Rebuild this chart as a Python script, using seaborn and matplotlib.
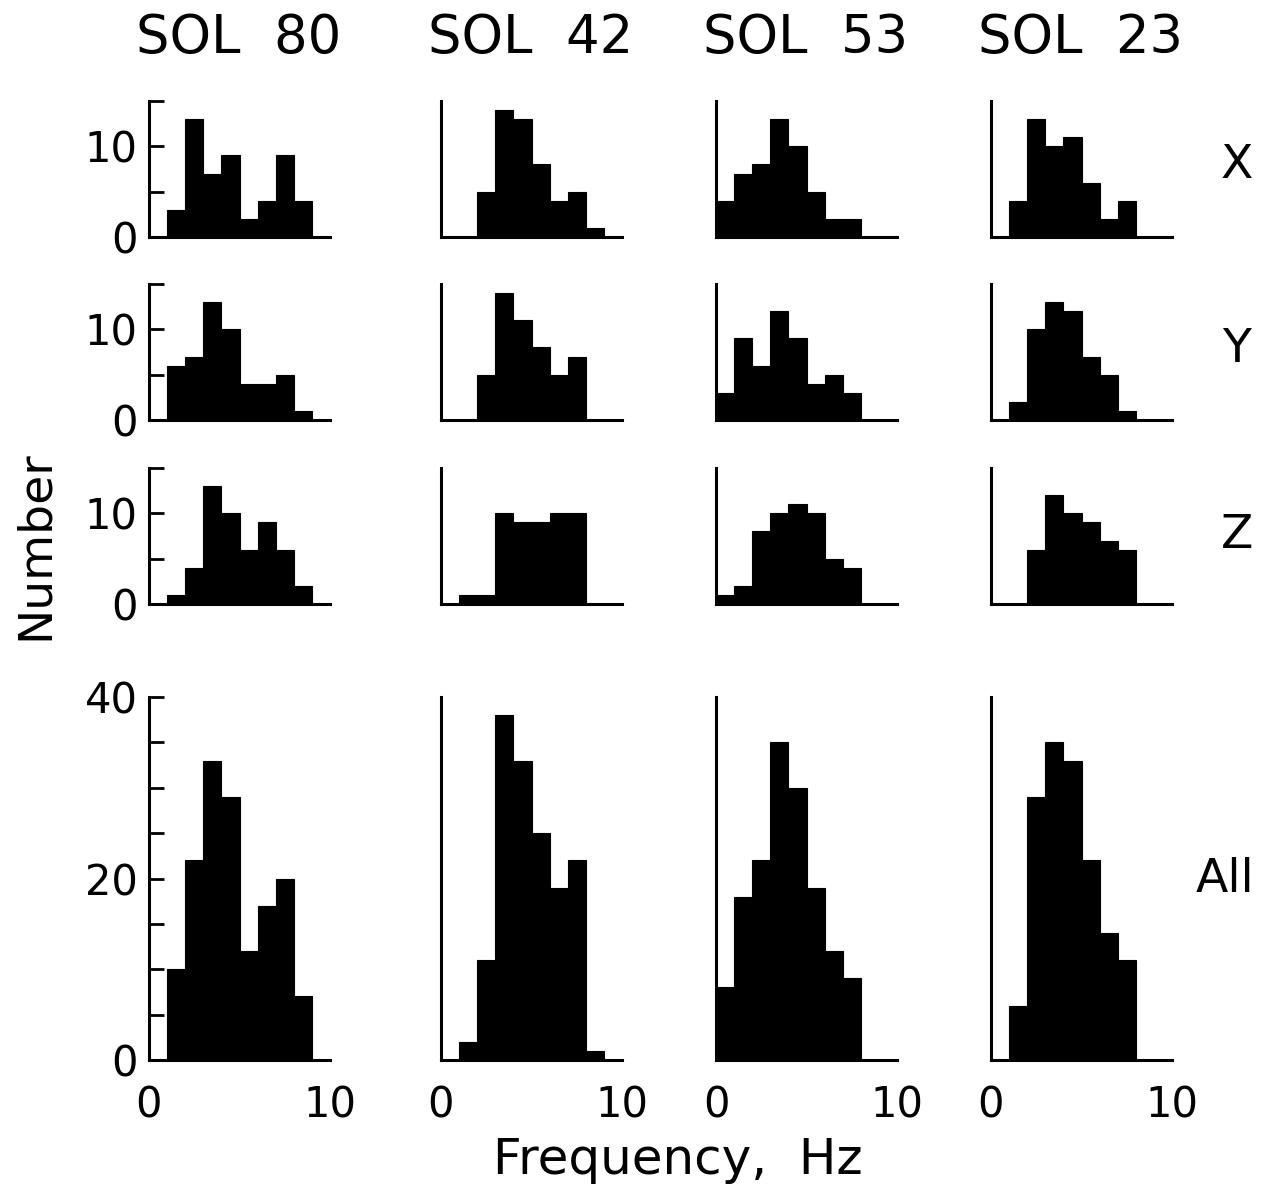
import numpy as np
import matplotlib
matplotlib.use("Agg")
import matplotlib.pyplot as plt
import seaborn as sns

# ---- data (counts per 1-Hz bin, 0-1 Hz ... 9-10 Hz) ----
freq_centers = [0.5, 1.5, 2.5, 3.5, 4.5, 5.5, 6.5, 7.5, 8.5, 9.5]
bin_edges = [0, 1, 2, 3, 4, 5, 6, 7, 8, 9, 10]
solenoids = ["SOL  80", "SOL  42", "SOL  53", "SOL  23"]
row_labels = ["X", "Y", "Z", "All"]

sol80_x = [0, 3, 13, 7, 9, 2, 4, 9, 4, 0]
sol80_y = [0, 6, 7, 13, 10, 4, 4, 5, 1, 0]
sol80_z = [0, 1, 4, 13, 10, 6, 9, 6, 2, 0]
sol80_all = [0, 10, 22, 33, 29, 12, 17, 20, 7, 0]

sol42_x = [0, 0, 5, 14, 13, 8, 4, 5, 1, 0]
sol42_y = [0, 0, 5, 14, 11, 8, 5, 7, 0, 0]
sol42_z = [0, 1, 1, 10, 9, 9, 10, 10, 0, 0]
sol42_all = [0, 2, 11, 38, 33, 25, 19, 22, 1, 0]

sol53_x = [4, 7, 8, 13, 10, 5, 2, 2, 0, 0]
sol53_y = [3, 9, 6, 12, 9, 4, 5, 3, 0, 0]
sol53_z = [1, 2, 8, 10, 11, 10, 5, 4, 0, 0]
sol53_all = [8, 18, 22, 35, 30, 19, 12, 9, 0, 0]

sol23_x = [0, 4, 13, 10, 11, 6, 2, 4, 0, 0]
sol23_y = [0, 2, 10, 13, 12, 7, 5, 1, 0, 0]
sol23_z = [0, 0, 6, 12, 10, 9, 7, 6, 0, 0]
sol23_all = [0, 6, 29, 35, 33, 22, 14, 11, 0, 0]

panels = [
    [sol80_x, sol42_x, sol53_x, sol23_x],
    [sol80_y, sol42_y, sol53_y, sol23_y],
    [sol80_z, sol42_z, sol53_z, sol23_z],
    [sol80_all, sol42_all, sol53_all, sol23_all],
]

# ---- layout (pixels) ----
W, H = 1269, 1202
col_left = [149, 441, 716, 991]
col_width = 181
row_bottom = [237, 420, 604, 1060]
row_top = [101, 284, 468, 697]
row_ymax = [15, 15, 15, 40]

sns.set_style("ticks")
plt.rcParams["font.family"] = ["DejaVu Sans"]
plt.rcParams["text.color"] = "black"
plt.rcParams["axes.labelcolor"] = "black"
plt.rcParams["xtick.color"] = "black"
plt.rcParams["ytick.color"] = "black"
plt.rcParams["axes.edgecolor"] = "black"

fig = plt.figure(figsize=(W / 100, H / 100), dpi=100)

for r in range(4):
    for c in range(4):
        left = col_left[c] / W
        bottom = 1 - row_bottom[r] / H
        height = (row_bottom[r] - row_top[r]) / H
        ax = fig.add_axes([left, bottom, col_width / W, height])
        sns.histplot(x=freq_centers, weights=panels[r][c], bins=bin_edges,
                     color="black", alpha=1, edgecolor="black", linewidth=0.8,
                     ax=ax)
        ax.set_xlim(0, 10)
        ax.set_ylim(0, row_ymax[r])
        ax.set_xlabel("")
        ax.set_ylabel("")
        for s in ["top", "right"]:
            ax.spines[s].set_visible(False)
        for s in ["left", "bottom"]:
            ax.spines[s].set_linewidth(2.2)
            ax.spines[s].set_color("black")
        ax.set_facecolor("white")
        # y ticks
        if c == 0:
            if r < 3:
                ax.set_yticks([0, 5, 10, 15])
                ax.set_yticklabels(["0", "", "10", ""])
            else:
                ax.set_yticks([0, 5, 10, 15, 20, 25, 30, 35, 40])
                ax.set_yticklabels(["0", "", "", "", "20", "", "", "", "40"])
            ax.tick_params(axis="y", direction="in", length=11, width=2,
                           labelsize=30, pad=8, colors="black",
                           labelcolor="black")
        else:
            ax.set_yticks([])
        # x ticks
        if r == 3:
            ax.set_xticks([0, 10])
            ax.set_xticklabels(["0", "10"])
            ax.tick_params(axis="x", length=0, labelsize=30, pad=18,
                           labelcolor="black")
        else:
            ax.set_xticks([])

# column titles
for c, name in enumerate(solenoids):
    fig.text((col_left[c] + 90) / W, 1 - 38 / H, name, ha="center",
             va="center", fontsize=38, color="black")

# row labels
row_label_y = [165, 350, 535, 880]
row_label_x = [1237, 1237, 1237, 1225]
for r, lab in enumerate(row_labels):
    fig.text(row_label_x[r] / W, 1 - row_label_y[r] / H, lab, ha="center",
             va="center", fontsize=34, color="black")

fig.text(35 / W, 1 - 545 / H, "Number", rotation=90, ha="center",
         va="center", fontsize=34, color="black")
fig.text(678 / W, 1 - 1160 / H, "Frequency,  Hz", ha="center", va="center",
         fontsize=36, color="black")

fig.savefig("out.png", dpi=100, facecolor="white")
